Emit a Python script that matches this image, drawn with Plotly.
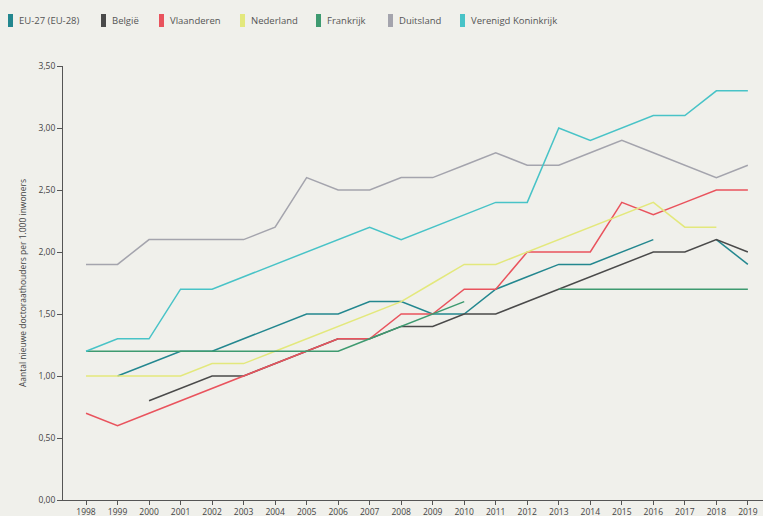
import plotly.graph_objects as go

# ---------------- data ----------------
years = [1998, 1999, 2000, 2001, 2002, 2003, 2004, 2005, 2006, 2007, 2008,
         2009, 2010, 2011, 2012, 2013, 2014, 2015, 2016, 2017, 2018, 2019]
year_labels = [str(y) for y in years]

eu27 = [None, 1.0, 1.1, 1.2, 1.2, 1.3, 1.4, 1.5, 1.5, 1.6, 1.6,
        1.5, 1.5, 1.7, 1.8, 1.9, 1.9, 2.0, 2.1, None, 2.1, 1.9]
belgie = [None, None, 0.8, 0.9, 1.0, 1.0, 1.1, 1.2, 1.3, 1.3, 1.4,
          1.4, 1.5, 1.5, 1.6, 1.7, 1.8, 1.9, 2.0, 2.0, 2.1, 2.0]
vlaanderen = [0.7, 0.6, 0.7, 0.8, 0.9, 1.0, 1.1, 1.2, 1.3, 1.3, 1.5,
              1.5, 1.7, 1.7, 2.0, 2.0, 2.0, 2.4, 2.3, 2.4, 2.5, 2.5]
nederland = [1.0, 1.0, 1.0, 1.0, 1.1, 1.1, 1.2, 1.3, 1.4, 1.5, 1.6,
             1.75, 1.9, 1.9, 2.0, 2.1, 2.2, 2.3, 2.4, 2.2, 2.2, None]
frankrijk = [1.2, 1.2, 1.2, 1.2, 1.2, 1.2, 1.2, 1.2, 1.2, 1.3, 1.4,
             1.5, 1.6, None, None, 1.7, 1.7, 1.7, 1.7, 1.7, 1.7, 1.7]
duitsland = [1.9, 1.9, 2.1, 2.1, 2.1, 2.1, 2.2, 2.6, 2.5, 2.5, 2.6,
             2.6, 2.7, 2.8, 2.7, 2.7, 2.8, 2.9, 2.8, 2.7, 2.6, 2.7]
vk = [1.2, 1.3, 1.3, 1.7, 1.7, 1.8, 1.9, 2.0, 2.1, 2.2, 2.1,
      2.2, 2.3, 2.4, 2.4, 3.0, 2.9, 3.0, 3.1, 3.1, 3.3, 3.3]

series_names = ["EU-27 (EU-28)", "België", "Vlaanderen", "Nederland",
                "Frankrijk", "Duitsland", "Verenigd Koninkrijk"]
series_values = [eu27, belgie, vlaanderen, nederland, frankrijk, duitsland, vk]
series_colors = ["#23878f", "#4a4a4a", "#e9535d", "#e3e87c",
                 "#3e9a70", "#a4a4ad", "#48c3c7"]

y_ticks = [0, 0.5, 1.0, 1.5, 2.0, 2.5, 3.0, 3.5]

# ---------------- figure ----------------
W, H = 763, 516
ML, MR, MT, MB = 63, 0, 66, 16
BG = "#f0f0eb"
FONT = "Open Sans"

fig = go.Figure()
for name, vals, col in zip(series_names, series_values, series_colors):
    fig.add_trace(go.Scatter(
        x=years, y=vals, name=name, mode="lines",
        line=dict(color=col, width=1.5), connectgaps=False,
        showlegend=False,
    ))

# manual legend (swatch + text) along the top
legend_px = [8, 101, 159, 240, 316, 388, 460]
pw = W - ML - MR
ph = H - MT - MB
shapes = []
annotations = []
for px, name, col in zip(legend_px, series_names, series_colors):
    shapes.append(dict(type="rect", xref="paper", yref="paper",
                       x0=(px - ML) / pw, x1=(px + 5 - ML) / pw,
                       y0=(H - MB - 27) / ph, y1=(H - MB - 14) / ph,
                       fillcolor=col, line=dict(width=0)))
    annotations.append(dict(
        xref="paper", yref="paper", x=(px + 9 - ML) / pw,
        y=(H - MB - 20.5) / ph, xanchor="left", yanchor="middle",
        text=name, showarrow=False,
        font=dict(family=FONT, size=9.5, color="#555555"),
    ))

fig.update_layout(
    width=W, height=H,
    margin=dict(l=ML, r=MR, t=MT, b=MB, autoexpand=False),
    paper_bgcolor=BG, plot_bgcolor=BG,
    separators=",.",
    font=dict(family=FONT, size=8.5, color="#444444"),
    shapes=shapes, annotations=annotations,
    showlegend=False,
    xaxis=dict(
        range=[1997.27, 2019.48], tickvals=years, ticktext=year_labels,
        showgrid=False, zeroline=False, showline=True, linecolor="#555555",
        linewidth=1, ticks="outside", ticklen=4, tickcolor="#555555",
        tickfont=dict(size=8.5, color="#444444"), automargin=False,
    ),
    yaxis=dict(
        range=[0, 3.5], tickvals=y_ticks, tickformat=".2f",
        showgrid=False, zeroline=False, showline=True, linecolor="#555555",
        linewidth=1, ticks="outside", ticklen=5, tickcolor="#555555",
        tickfont=dict(size=8.5, color="#444444"), automargin=False,
        title=dict(text="Aantal nieuwe doctoraathouders per 1.000 inwoners",
                   font=dict(size=8.5, color="#444444"), standoff=10),
    ),
)

fig.write_html(
    "out.html",
    config={"displayModeBar": False},
    post_script="document.body.style.margin='0';"
                "document.body.style.background='#f0f0eb';",
)
